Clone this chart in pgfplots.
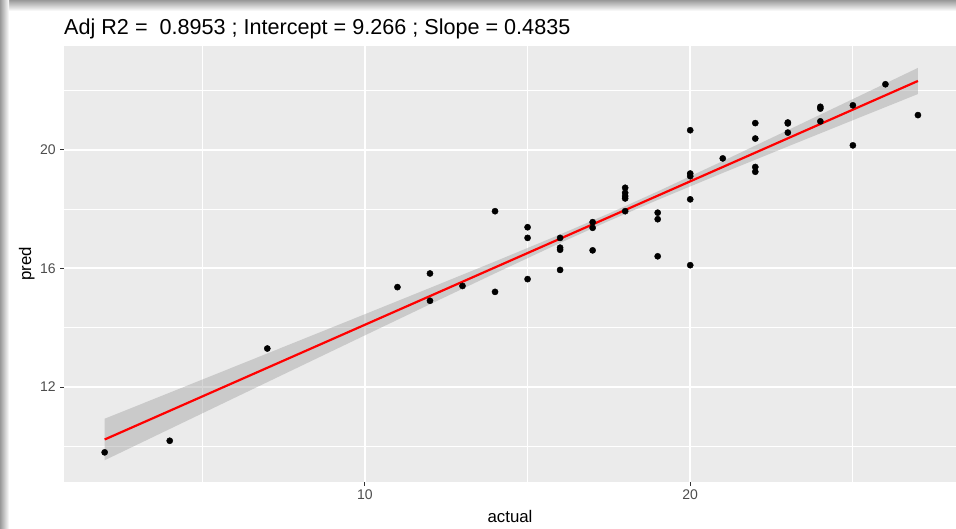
\documentclass[border=0pt]{standalone}
\usepackage{fontspec}
\setmainfont{Liberation Sans}
\usepackage{pgfplots}
\pgfplotsset{compat=1.18}
\usepackage{pgfplotstable}

\definecolor{panelbg}{HTML}{EBEBEB}
\definecolor{ticktext}{HTML}{4D4D4D}
\definecolor{tickline}{HTML}{333333}
\definecolor{bandfill}{HTML}{999999}

% actual vs predicted
\pgfplotstableread{
x y
2 9.80
4 10.19
7 13.30
11 15.37
12 15.83
12 14.91
13 15.41
14 17.93
14 15.21
15 17.39
15 17.03
15 15.64
16 17.03
16 16.70
16 16.63
16 15.95
17 17.56
17 17.37
17 16.61
18 18.72
18 18.55
18 18.44
18 18.36
18 17.93
19 17.88
19 17.66
19 16.41
20 20.66
20 19.20
20 19.11
20 18.33
20 16.11
21 19.71
22 20.90
22 20.38
22 19.42
22 19.26
23 20.92
23 20.89
23 20.58
24 21.45
24 21.39
24 20.96
25 21.50
25 20.15
26 22.21
27 21.17
}\pointdata

\begin{document}
\begin{tikzpicture}
% page and drop shadow
\fill[white] (0,0) rectangle (956pt,529pt);
\shade[top color=black!40, bottom color=white] (0,518pt) rectangle (956pt,529pt);
\shade[left color=black!40, right color=white] (0,0) rectangle (9pt,529pt);
\useasboundingbox (0,0) rectangle (956pt,529pt);

\begin{axis}[
  at={(64pt,47pt)}, anchor=south west,
  scale only axis, width=892pt, height=436pt,
  xmin=0.75, xmax=28.17, ymin=8.8, ymax=23.5,
  axis background/.style={fill=panelbg},
  axis line style={draw=none},
  xtick={10,20}, ytick={12,16,20},
  minor xtick={5,15,25}, minor ytick={10,14,18,22},
  grid=both,
  major grid style={white, line width=2pt},
  minor grid style={white, line width=1pt},
  tick pos=left, tick align=outside,
  major tick length=3.7pt, minor tick length=0pt,
  major tick style={tickline, line width=1pt},
  /pgf/number format/assume math mode=true,
  ticklabel style={font=\fontsize{14}{16}\selectfont, text=ticktext},
  yticklabel style={xshift=-1pt},
]
\addplot[only marks, mark=*, mark size=3.1pt, black] table[x=x, y=y] {\pointdata};
% confidence band
\addplot[fill=bandfill, fill opacity=0.4, draw=none] coordinates {
(2,10.933) (4,11.813) (6,12.693) (8,13.575) (10,14.457) (12,15.343) (14,16.235)
(16,17.145) (17.5,17.853) (19,18.596) (21,19.620) (23,20.662) (25,21.710) (27,22.762)
(27,21.880) (25,20.998) (23,20.112) (21,19.220) (19,18.310) (17.5,17.601) (16,16.859)
(14,15.835) (12,14.793) (10,13.745) (8,12.693) (6,11.641) (4,10.587) (2,9.533)
} -- cycle;
% fitted line
\addplot[red, line width=2.2pt] coordinates {(2,10.233) (27,22.321)};
\end{axis}

\node[anchor=base west, inner sep=0pt, font=\fontsize{21.6}{24}\selectfont] at (64pt,494pt)
  {Adj R2 =\ \ 0.8953 ; Intercept = 9.266 ; Slope = 0.4835};
\node[anchor=base, inner sep=0pt, font=\fontsize{16.8}{19}\selectfont] at (510pt,6pt) {actual};
\node[anchor=base, rotate=90, inner sep=0pt, font=\fontsize{16.8}{19}\selectfont] at (31pt,265pt) {pred};
\end{tikzpicture}
\end{document}
